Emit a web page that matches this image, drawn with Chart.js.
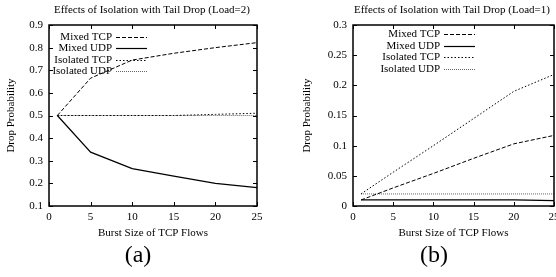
<!DOCTYPE html>
<html>
<head>
<meta charset="utf-8">
<script src="https://cdn.jsdelivr.net/npm/chart.js@4/dist/chart.umd.min.js"></script>
<style>
  body { margin: 0; background: #fff; }
  #wrap { display: flex; width: 556px; height: 277px; }
  canvas { display: block; }
</style>
</head>
<body>
<div id="wrap">
  <canvas id="load2" width="278" height="277" style="width:278px;height:277px"></canvas>
  <canvas id="load1" width="278" height="277" style="width:278px;height:277px"></canvas>
</div>
<script>
// burst size of TCP flows (x)
var burstSizes = [1, 5, 10, 15, 20, 25];
var seriesNames = ['Mixed TCP', 'Mixed UDP', 'Isolated TCP', 'Isolated UDP'];

// (a) Load=2
var load2MixedTcp    = [0.5, 0.665, 0.745, 0.775, 0.8, 0.822];
var load2MixedUdp    = [0.5, 0.338, 0.265, 0.232, 0.2, 0.181];
var load2IsolatedTcp = [0.5, 0.5, 0.5, 0.5, 0.505, 0.51];
var load2IsolatedUdp = [0.5, 0.5, 0.5, 0.5, 0.5, 0.5];

// (b) Load=1
var load1MixedTcp    = [0.01, 0.03, 0.054, 0.079, 0.103, 0.117];
var load1MixedUdp    = [0.01, 0.01, 0.01, 0.01, 0.01, 0.009];
var load1IsolatedTcp = [0.02, 0.056, 0.1, 0.145, 0.19, 0.218];
var load1IsolatedUdp = [0.02, 0.02, 0.02, 0.02, 0.02, 0.02];

var xTicks = [0, 5, 10, 15, 20, 25];
var yTicksA = [0.1, 0.2, 0.3, 0.4, 0.5, 0.6, 0.7, 0.8, 0.9];
var yTicksB = [0, 0.05, 0.1, 0.15, 0.2, 0.25, 0.3];

var serif = "'Liberation Serif', 'Times New Roman', serif";
var fs = 11;
var lineStyles = [
  { dash: [4, 2], color: '#000', width: 1 },
  { dash: [], color: '#000', width: 1.2 },
  { dash: [1.5, 2], color: '#000', width: 1 },
  { dash: [1, 1], color: '#666', width: 1 }
];

function pts(ys) {
  return burstSizes.map(function(x, i) { return { x: x, y: ys[i] }; });
}

// gnuplot look: frame, inward ticks, legend inside, title and caption
var gnuplotBits = {
  id: 'gnuplotBits',
  afterDraw: function(chart, args, o) {
    var ctx = chart.ctx, a = chart.chartArea;
    var xs = chart.scales.x, ys = chart.scales.y;
    ctx.save();
    ctx.strokeStyle = '#000';
    ctx.lineWidth = 1;
    ctx.beginPath();
    xs.ticks.forEach(function(t) {
      var px = Math.round(xs.getPixelForValue(t.value)) + 0.5;
      ctx.moveTo(px, a.bottom); ctx.lineTo(px, a.bottom - 4);
      ctx.moveTo(px, a.top); ctx.lineTo(px, a.top + 4);
    });
    ys.ticks.forEach(function(t) {
      var py = Math.round(ys.getPixelForValue(t.value)) + 0.5;
      ctx.moveTo(a.left, py); ctx.lineTo(a.left + 4, py);
      ctx.moveTo(a.right, py); ctx.lineTo(a.right - 4, py);
    });
    ctx.stroke();
    ctx.lineWidth = 1.5;
    ctx.strokeRect(a.left, a.top, a.right - a.left, a.bottom - a.top);

    // legend
    ctx.font = fs + 'px ' + serif;
    ctx.fillStyle = '#000';
    ctx.textAlign = 'right';
    ctx.textBaseline = 'middle';
    chart.data.datasets.forEach(function(ds, i) {
      var y = o.legendY + i * o.legendDy;
      ctx.fillText(ds.label, o.legendX, y);
      ctx.strokeStyle = ds.borderColor;
      ctx.lineWidth = ds.borderWidth;
      ctx.setLineDash(ds.borderDash);
      ctx.beginPath();
      ctx.moveTo(o.legendX + 4, Math.round(y) + 0.5);
      ctx.lineTo(o.legendX + 35, Math.round(y) + 0.5);
      ctx.stroke();
    });
    ctx.setLineDash([]);

    ctx.textAlign = 'center';
    ctx.fillText(o.title, o.titleX, 10);
    ctx.font = '24px ' + serif;
    ctx.fillText(o.caption, o.captionX, 256);
    ctx.restore();
  }
};

function makeChart(id, series, yMin, yMax, yStep, yFmt, yWidth, padRight, yTitlePad, bits) {
  var datasets = series.map(function(s, i) {
    return {
      label: seriesNames[i],
      data: pts(s),
      borderColor: lineStyles[i].color,
      borderWidth: lineStyles[i].width,
      borderDash: lineStyles[i].dash,
      pointRadius: 0,
      fill: false,
      tension: 0
    };
  });
  return new Chart(document.getElementById(id), {
    type: 'line',
    data: { datasets: datasets },
    options: {
      responsive: false,
      animation: false,
      layout: { padding: { left: 0, right: padRight, top: 25, bottom: 0 } },
      plugins: { legend: { display: false }, tooltip: { enabled: false }, gnuplotBits: bits },
      scales: {
        x: {
          type: 'linear', min: 0, max: 25,
          afterBuildTicks: function(s) { s.ticks = xTicks.map(function(v) { return { value: v }; }); },
          afterFit: function(s) { s.height = 71; s.paddingLeft = 0; s.paddingRight = 0; },
          grid: { display: false, drawTicks: false },
          border: { display: false },
          ticks: { padding: 5, color: '#000', font: { family: serif, size: fs }, maxRotation: 0 },
          title: { display: true, text: 'Burst Size of TCP Flows', color: '#000',
                   font: { family: serif, size: fs }, padding: { top: 0, bottom: 37 } }
        },
        y: {
          type: 'linear', min: yMin, max: yMax,
          afterBuildTicks: function(s) { s.ticks = yStep.map(function(v) { return { value: v }; }); },
          afterFit: function(s) { s.width = yWidth; s.paddingTop = 0; s.paddingBottom = 0; },
          grid: { display: false, drawTicks: false },
          border: { display: false },
          ticks: { padding: 6, color: '#000', font: { family: serif, size: fs }, callback: yFmt },
          title: { display: true, text: 'Drop Probability', color: '#000',
                   font: { family: serif, size: fs }, padding: { top: yTitlePad, bottom: 0 } }
        }
      }
    },
    plugins: [gnuplotBits]
  });
}

makeChart('load2', [load2MixedTcp, load2MixedUdp, load2IsolatedTcp, load2IsolatedUdp],
  0.1, 0.9, yTicksA, function(v) { return v.toFixed(1); }, 49, 21, 5,
  { title: 'Effects of Isolation with Tail Drop (Load=2)', titleX: 152, caption: '(a)', captionX: 138,
    legendX: 112, legendY: 37, legendDy: 11.4 });

makeChart('load1', [load1MixedTcp, load1MixedUdp, load1IsolatedTcp, load1IsolatedUdp],
  0, 0.3, yTicksB, function(v) { return String(Math.round(v * 100) / 100); }, 75, 2, 23,
  { title: 'Effects of Isolation with Tail Drop (Load=1)', titleX: 174, caption: '(b)', captionX: 156,
    legendX: 162, legendY: 34, legendDy: 11.7 });
</script>
</body>
</html>
